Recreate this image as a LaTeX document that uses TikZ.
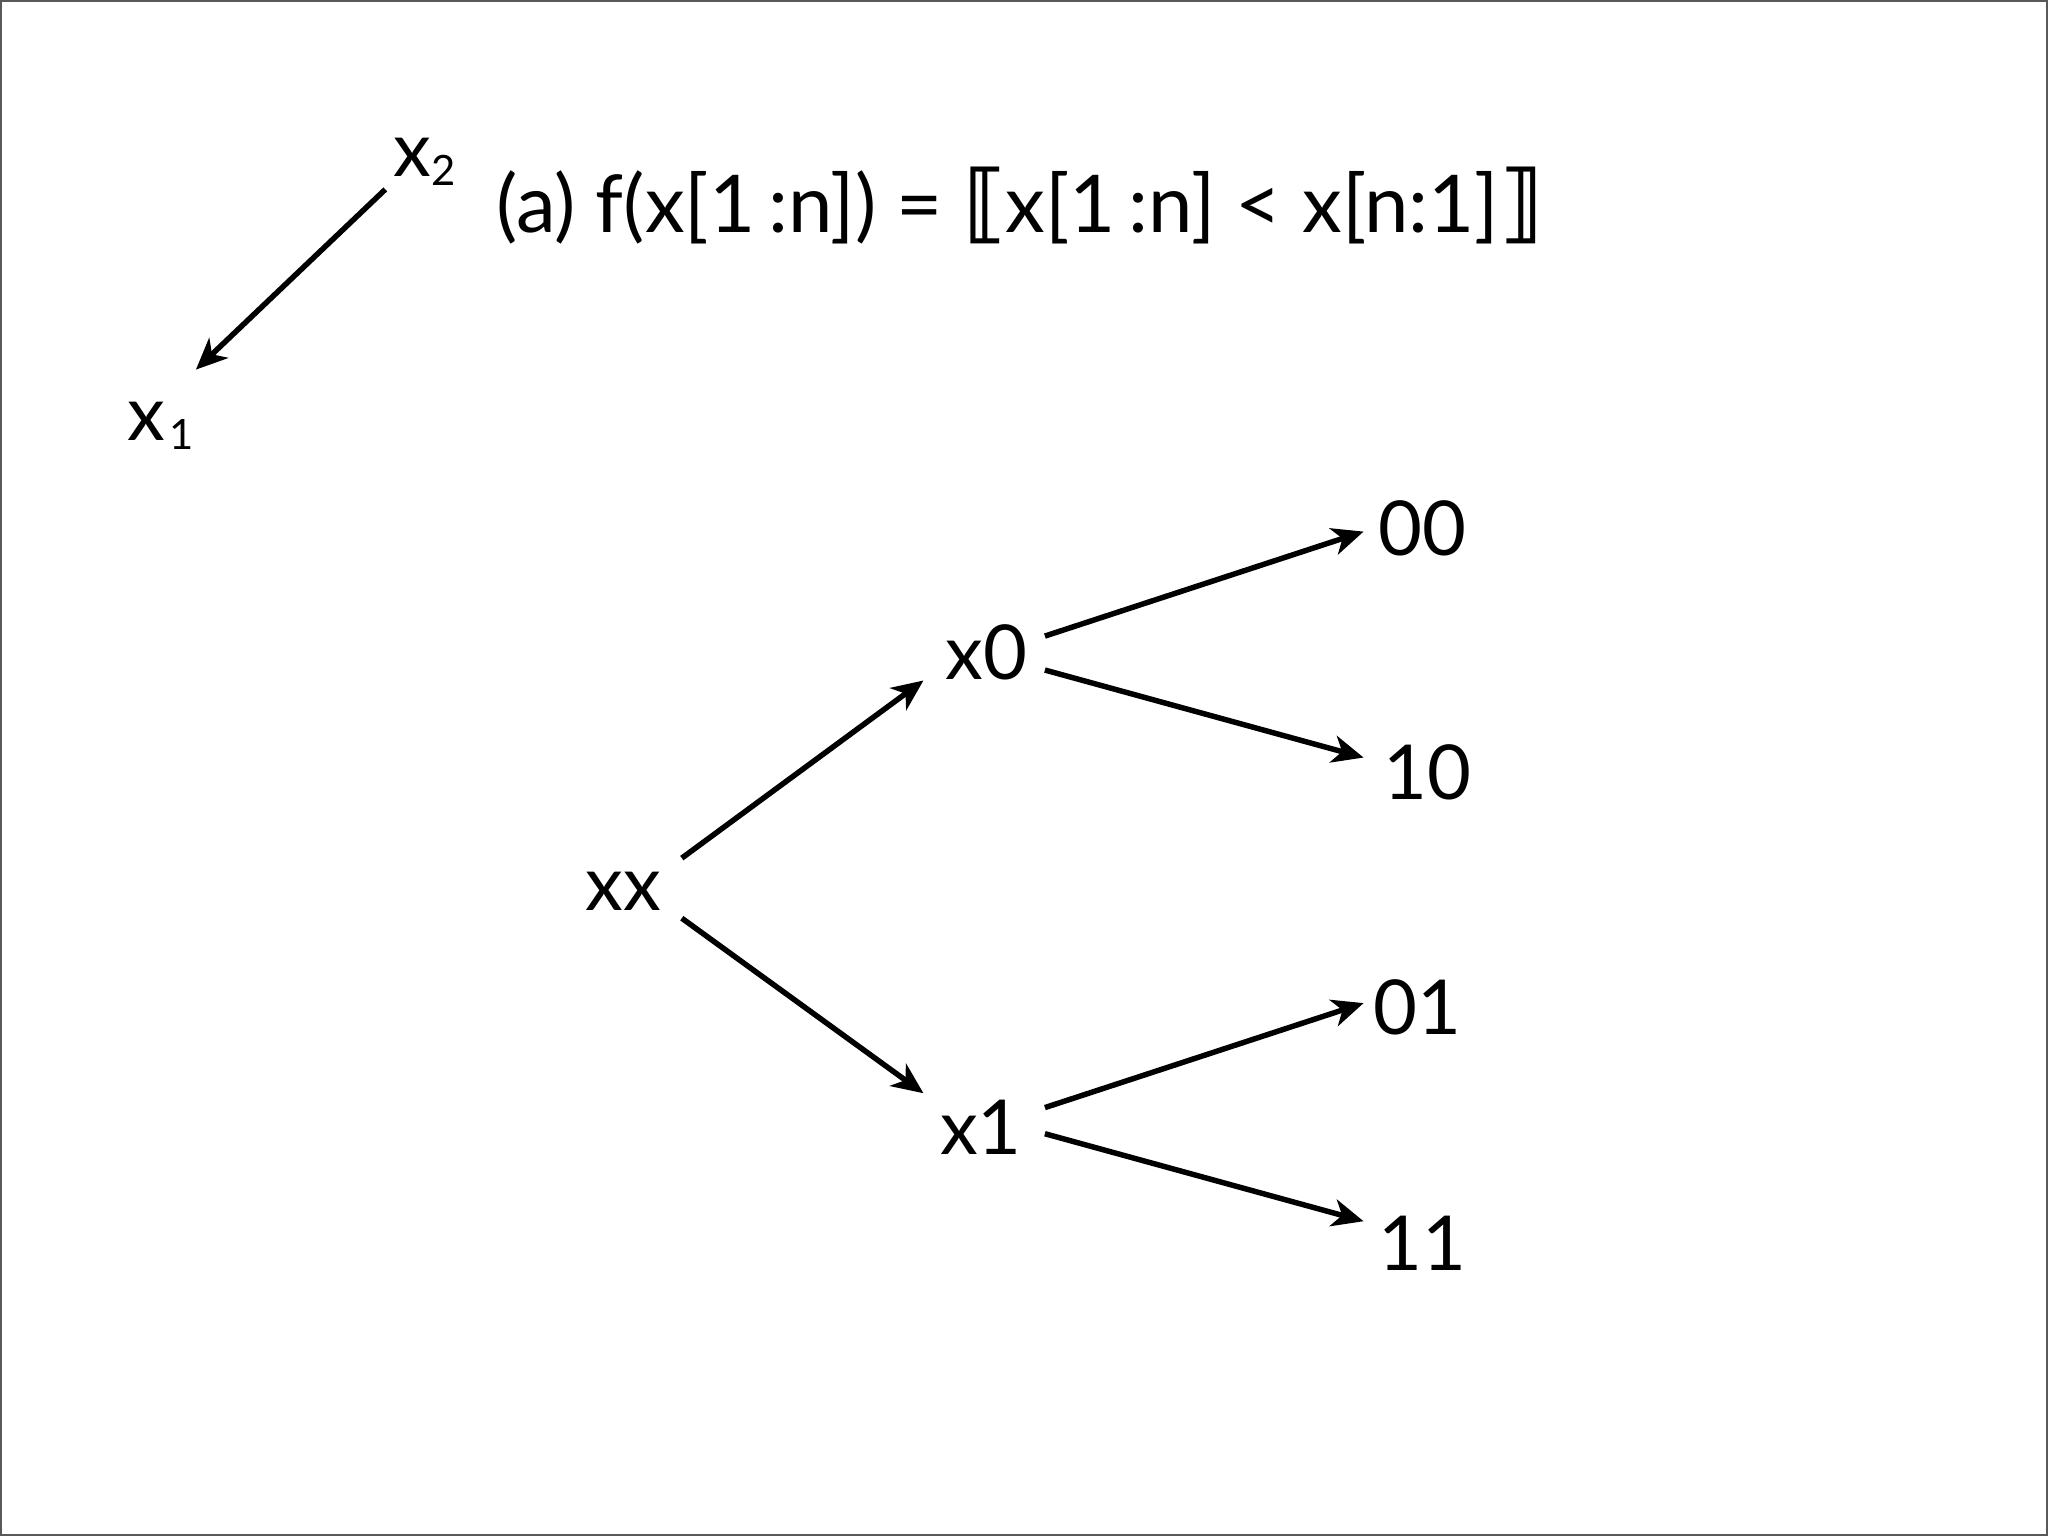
\documentclass[tikz,border=0pt]{standalone}
\usepackage{fontspec}
\setmainfont{Lato}
\newfontfamily\symfont{DejaVu Sans}
\usetikzlibrary{arrows.meta}
\tikzset{
  lbl/.style={inner sep=0pt, anchor=base, font=\fontsize{29}{34}\selectfont},
  flbl/.style={inner sep=0pt, anchor=base, font=\fontsize{30.5}{36}\selectfont},
  arr/.style={line width=2.1pt, -{Stealth[length=12pt,width=10.5pt,inset=3.5pt]}},
}
\newcommand{\subsc}[1]{\raisebox{-0.12em}{\fontsize{16}{16}\selectfont #1}}
\newcommand{\dlb}{{\symfont\bfseries\fontsize{33}{36}\selectfont ⟦}}
\newcommand{\drb}{{\symfont\bfseries\fontsize{33}{36}\selectfont ⟧}}
\begin{document}
\begin{tikzpicture}[x=0.5pt,y=-0.5pt]
\useasboundingbox (0,0) rectangle (1568,1176);
\draw[line width=0.8pt, color=black!65] (0.6,0.6) rectangle (1567.4,1175.4);
% nodes
\node[lbl] (xtwo) at (325,135) {x\subsc{2}};
\node[lbl] (xone) at (123,337) {x\kern0.06em\subsc{1}};
\node[flbl] (formula) at (780,178) {(a) f(x[1\,:n]) = \dlb x[1\,:n] < x[n:1]\drb};
\node[lbl] (xx) at (477,697) {xx};
\node[lbl] (x0) at (755,520) {x0};
\node[lbl] (x1) at (751,884) {x1};
\node[lbl] (n00) at (1089,425) {00};
\node[lbl] (n10) at (1093,612) {10};
\node[lbl] (n01) at (1085,792) {01};
\node[lbl] (n11) at (1089,973) {11};
% connectors
\draw[arr] ([shift={(-30,10)}]xtwo.base) -- ([shift={(27,-54)}]xone.base);
\draw[arr] ([shift={(45,-40)}]xx.base) -- ([shift={(-48,1)}]x0.base);
\draw[arr] ([shift={(45,6)}]xx.base) -- ([shift={(-44,-47)}]x1.base);
\draw[arr] ([shift={(45,-33)}]x0.base) -- ([shift={(-45,-18)}]n00.base);
\draw[arr] ([shift={(45,-7)}]x0.base) -- ([shift={(-49,-32)}]n10.base);
\draw[arr] ([shift={(49,-36)}]x1.base) -- ([shift={(-41,-24)}]n01.base);
\draw[arr] ([shift={(49,-16)}]x1.base) -- ([shift={(-45,-38)}]n11.base);
\end{tikzpicture}
\end{document}
